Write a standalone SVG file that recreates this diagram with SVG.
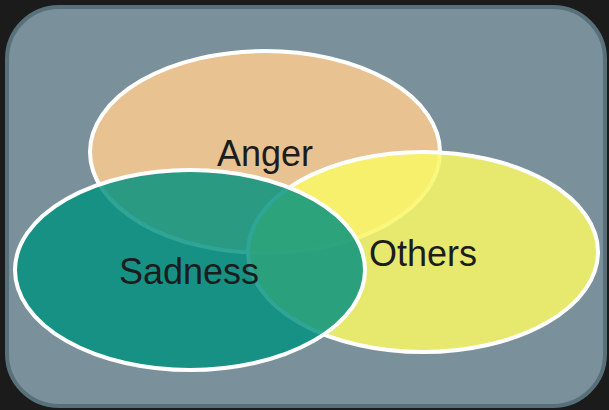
<svg xmlns="http://www.w3.org/2000/svg" width="609" height="410" viewBox="0 0 609 410">
  <style>
    .set { stroke: #ffffff; stroke-width: 4; }
    .lbl { font-family: "Liberation Sans", Arial, sans-serif; font-size: 36px; fill: #1c1c1c; text-anchor: middle; }
  </style>
  <rect x="0" y="0" width="609" height="410" fill="#1b1b1b"/>
  <rect id="frame" x="7" y="7" width="598" height="399" rx="52" ry="52" fill="#7a919b" stroke="#58707a" stroke-width="4"/>
  <g id="anger">
    <ellipse class="set" cx="265" cy="152" rx="175" ry="101" fill="#e8c291"/>
    <text class="lbl" x="265" y="166">Anger</text>
  </g>
  <g id="others">
    <ellipse class="set" cx="423" cy="252" rx="175" ry="100" fill="#f9f766" fill-opacity="0.86"/>
  </g>
  <g id="sadness">
    <ellipse class="set" cx="190" cy="270" rx="175" ry="100" fill="#00917f" fill-opacity="0.82"/>
    <text class="lbl" x="189" y="284">Sadness</text>
  </g>
  <g id="others-label">
    <text class="lbl" x="423" y="266">Others</text>
  </g>
  <g id="connectors"/>
</svg>
